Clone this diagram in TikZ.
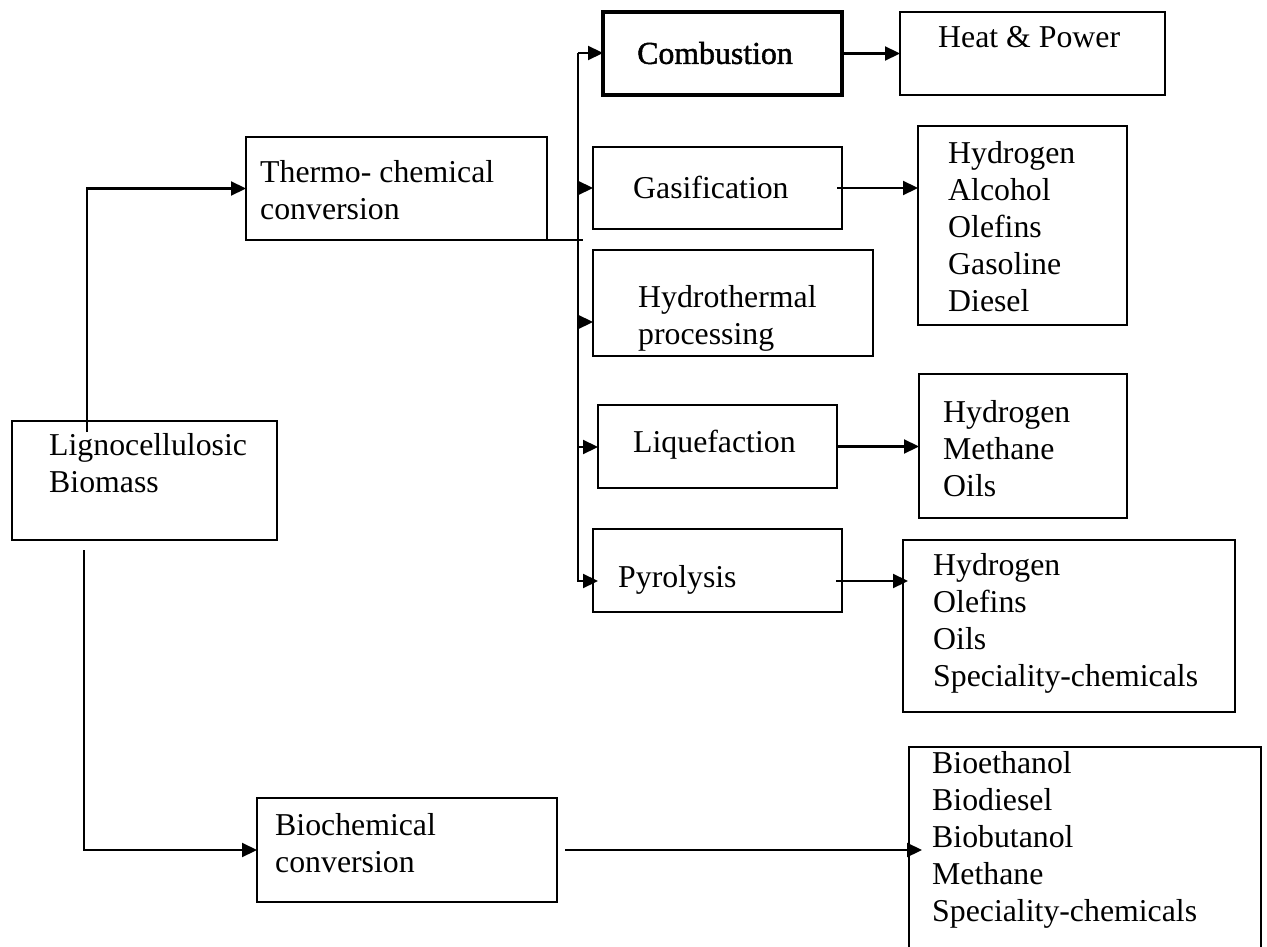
\documentclass[tikz,border=0pt]{standalone}
\usepackage{fontspec}
\setmainfont{Liberation Serif}
\newfontfamily\combfont[FakeBold=1.5]{Liberation Serif}
\usetikzlibrary{arrows.meta}
\tikzset{
  box/.style={draw, line width=2.2pt, inner sep=0pt, outer sep=0pt, anchor=north west},
  txt/.style={inner sep=0pt, align=left, anchor=north west, font=\fontsize{31.8}{37}\selectfont},
  arr/.style={line width=2.2pt, -{Triangle[length=15pt,width=14pt]}},
  ln/.style={line width=2.2pt},
}
\begin{document}
\begin{tikzpicture}[x=1pt,y=-1pt]
\clip (0,0) rectangle (1267,947);
\fill[white] (0,0) rectangle (1267,947);
% boxes
\node[box, minimum width=265pt, minimum height=119pt] (ligno) at (12,421) {};
\node[box, minimum width=301pt, minimum height=103pt] (thermo) at (246,137) {};
\node[box, minimum width=300pt, minimum height=104pt] (biochem) at (257,798) {};
\node[box, line width=3.2pt, minimum width=239pt, minimum height=83pt] (comb) at (603,12) {};
\node[box, minimum width=265pt, minimum height=83pt] (heat) at (900,12) {};
\node[box, minimum width=249pt, minimum height=82pt] (gas) at (593,147) {};
\node[box, minimum width=209pt, minimum height=199pt] (gasout) at (918,126) {};
\node[box, minimum width=280pt, minimum height=106pt] (hydro) at (593,250) {};
\node[box, minimum width=239pt, minimum height=83pt] (liq) at (598,405) {};
\node[box, minimum width=208pt, minimum height=144pt] (liqout) at (919,374) {};
\node[box, minimum width=249pt, minimum height=83pt] (pyro) at (593,529) {};
\node[box, minimum width=332pt, minimum height=172pt] (pyroout) at (903,540) {};
\node[box, minimum width=352pt, minimum height=240pt] (bioout) at (909,747) {};
% texts
\node[txt] (ligno-t) at (49,433) {Lignocellulosic\\Biomass};
\node[txt] (thermo-t) at (260,160) {Thermo- chemical\\conversion};
\node[txt] (biochem-t) at (275,813) {Biochemical\\conversion};
\node[txt, anchor=center, font=\combfont\fontsize{31.8}{37}\selectfont] (comb-t) at (715,53) {Combustion};
\node[txt] (heat-t) at (938,26) {Heat \& Power};
\node[txt] (gas-t) at (633,176) {Gasification};
\node[txt] (gasout-t) at (948,141) {Hydrogen\\Alcohol\\Olefins\\Gasoline\\Diesel};
\node[txt] (hydro-t) at (638,285) {Hydrothermal\\processing};
\node[txt] (liq-t) at (633,430) {Liquefaction};
\node[txt] (liqout-t) at (943,400) {Hydrogen\\Methane\\Oils};
\node[txt] (pyro-t) at (618,565) {Pyrolysis};
\node[txt] (pyroout-t) at (933,553) {Hydrogen\\Olefins\\Oils\\Speciality-chemicals};
\node[txt] (bioout-t) at (932,751) {Bioethanol\\Biodiesel\\Biobutanol\\Methane\\Speciality-chemicals};
% connectors
\coordinate (lg1) at (87,432);
\coordinate (lg2) at (84,550);
\draw[arr] (lg1) |- (thermo.west);
\draw[arr] (lg2) |- (biochem.west);
\draw[ln] (thermo.south east) -- ++(36,0) coordinate (tb);
\coordinate (b1) at (578,53);
\coordinate (b2) at (578,188);
\coordinate (b3) at (578,322);
\coordinate (b4) at (578,447);
\coordinate (b5) at (578,581);
\draw[arr] (b1) |- ([xshift=5pt]pyro.west |- b5);
\draw[arr] (b1) -- (comb.west |- b1);
\draw[arr] (b2) -- (gas.west |- b2);
\draw[arr] (b3) -- (hydro.west |- b3);
\draw[arr] (b4) -- (liq.west |- b4);
\draw[arr] (comb.east) -- (heat.west |- comb.east);
\draw[arr] ([xshift=-5pt]gas.east |- b2) -- (gasout.west |- b2);
\draw[arr] (liq.east) -- (liqout.west |- liq.east);
\coordinate (p1) at (836,581);
\draw[arr] (p1) -- ([xshift=5pt]pyroout.west |- p1);
\draw[arr] ([xshift=8pt]biochem.east) -- ([xshift=13pt]bioout.west |- biochem.east);
\end{tikzpicture}
\end{document}
